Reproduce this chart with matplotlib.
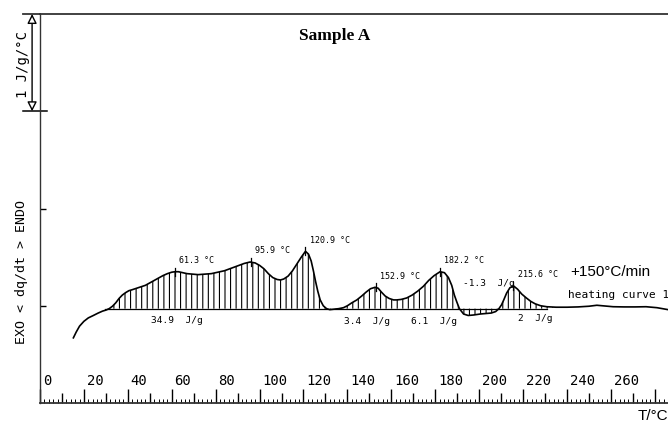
import numpy as np
import matplotlib
matplotlib.use('Agg')
import matplotlib.pyplot as plt
from matplotlib.ticker import MultipleLocator
from matplotlib.transforms import blended_transform_factory

# heating curve, T in degC, dq/dt in J/g/degC
temp = [15.2, 16.5, 18, 20, 22, 24.3, 26.5, 28.5, 30, 31.5, 33, 34.5, 36, 37.5, 39,
        40.5, 42, 44, 46, 48, 50, 52, 54, 56, 58, 60, 61.5, 63, 65, 67, 69.5, 72,
        75, 78, 81, 84, 87, 90, 93, 95.7, 98, 100, 102, 104, 106, 108, 109.5, 111,
        113, 115, 117, 119, 120.9, 122.3, 123.5, 124.5, 125.5, 126.5, 127.6, 129,
        130.5, 132, 134, 136, 138.2, 140, 142, 144.3, 146.5, 148.5, 150.5, 152.6,
        154, 155.5, 157.2, 159, 161, 162.5, 164.5, 167, 169.5, 172, 174.6, 177,
        179.5, 182.2, 184.2, 186, 187.5, 188.7, 189.8, 191, 192.9, 195, 197.5,
        200.5, 203, 205.5, 207.5, 209, 210.2, 211.2, 212.5, 214, 215.6, 217.5,
        219.4, 221.5, 223.5, 225.5, 228, 230.8, 235, 240, 245, 250, 253.6, 257,
        261, 266, 271, 276, 281, 286]
dqdt = [-0.33, -0.27, -0.21, -0.16, -0.125, -0.10, -0.075, -0.055, -0.045, -0.03,
        -0.005, 0.03, 0.075, 0.11, 0.135, 0.155, 0.165, 0.18, 0.195, 0.21, 0.235,
        0.26, 0.285, 0.31, 0.33, 0.345, 0.35, 0.35, 0.34, 0.33, 0.325, 0.32, 0.325,
        0.33, 0.345, 0.36, 0.385, 0.41, 0.435, 0.45, 0.44, 0.415, 0.38, 0.33, 0.29,
        0.27, 0.265, 0.275, 0.305, 0.36, 0.43, 0.5, 0.56, 0.53, 0.46, 0.36, 0.25,
        0.15, 0.06, 0.0, -0.03, -0.04, -0.035, -0.03, -0.02, 0.0, 0.03, 0.06, 0.10,
        0.14, 0.175, 0.19, 0.18, 0.14, 0.10, 0.075, 0.06, 0.06, 0.065, 0.08, 0.11,
        0.15, 0.20, 0.26, 0.31, 0.35, 0.34, 0.29, 0.21, 0.11, 0.04, -0.03, -0.085,
        -0.1, -0.095, -0.085, -0.08, -0.075, -0.06, -0.03, 0.01, 0.06, 0.13, 0.185,
        0.205, 0.17, 0.12, 0.08, 0.045, 0.02, 0.0, -0.01, -0.015, -0.015, -0.012,
        -0.005, 0.005, -0.002, -0.01, -0.012, -0.012, -0.01, -0.02, -0.04]

baseline = -0.03
integr_start, integr_end = 29.6, 231

peak_T = [61.3, 95.9, 120.9, 152.9, 182.2, 215.6]
peak_y = [0.35, 0.45, 0.56, 0.19, 0.35, 0.205]

area_vals = ['34.9', '3.4', '6.1', '-1.3', '2']
area_T = [62.3, 148.8, 179.5, 204.6, 225.5]
area_y = [-0.15, -0.16, -0.16, 0.23, -0.13]

xtick_vals = list(range(0, 261, 20))

mono = 'DejaVu Sans Mono'
plt.rcParams['hatch.linewidth'] = 0.8
T = np.array(temp)
Y = np.array(dqdt)

fig = plt.figure(figsize=(6.68, 4.23), dpi=100)
ax = fig.add_axes([40 / 668, 20 / 423, 628 / 668, 389 / 423])
ax.set_xlim(0, 286)
ax.set_ylim(-1, 3)

# hatched integration area
mask = (T >= integr_start) & (T <= integr_end)
ax.fill_between(T, Y, baseline, where=mask, interpolate=True, facecolor='none',
                edgecolor='black', hatch='|||', linewidth=0)
ax.plot([integr_start, integr_end], [baseline, baseline], color='black', lw=0.9)
ax.plot(T, Y, color='black', lw=1.2)

# peak marks and labels
for pt, py in zip(peak_T, peak_y):
    ax.plot([pt, pt], [py - 0.04, py + 0.04], color='black', lw=0.9)
    ax.annotate('%.1f °C' % pt, xy=(pt, py), xytext=(3, 8), textcoords='offset points',
                ha='left', va='center', family=mono, fontsize=6)
for v, at, ay in zip(area_vals, area_T, area_y):
    ax.text(at, ay, v + '  J/g', ha='center', va='center', family=mono, fontsize=6.8)

ax.text(241.5, 0.35, '+150°C/min', family='Liberation Sans', fontsize=11, va='center')
ax.text(240.5, 0.11, 'heating curve 1', family=mono, fontsize=8, va='center')

# axes styling
for s in ['top', 'bottom', 'left']:
    ax.spines[s].set_color('#333333')
    ax.spines[s].set_linewidth(1.3)
ax.spines['left'].set_linewidth(1.0)
ax.spines['right'].set_visible(False)

ax.xaxis.set_major_locator(MultipleLocator(20))
ax.xaxis.set_minor_locator(MultipleLocator(2))
ax.tick_params(axis='x', which='major', direction='in', length=10, width=1, labelbottom=False)
ax.tick_params(axis='x', which='minor', direction='in', length=3, width=0.7)
ax.set_yticks([0, 1])
ax.tick_params(axis='y', direction='in', length=4.5, width=1, labelleft=False)

trans = blended_transform_factory(ax.transData, ax.transAxes)
ax.vlines(np.arange(10, 286, 20), 0, 10 / 389, transform=trans, color='black', lw=1)
for t in xtick_vals:
    ax.text(t + 1.3, 0.0566, str(t), transform=trans, ha='left', va='center',
            family=mono, fontsize=10)
ax.text(1.0, -0.033, 'T/°C', transform=ax.transAxes, ha='right', va='center',
        family='Liberation Sans', fontsize=11, clip_on=False)

# scale bar 1 J/g/°C
ax.plot([-7.7, 3.2], [2, 2], color='black', lw=1.1, clip_on=False)
ax.plot([-7.7, 0], [3, 3], color='#333333', lw=1.3, clip_on=False)
ax.annotate('', xy=(-3.6, 3), xytext=(-3.6, 2), annotation_clip=False,
            arrowprops=dict(arrowstyle='<|-|>', fc='white', ec='black', lw=1,
                            mutation_scale=14, shrinkA=0, shrinkB=0))
fig.text(23 / 668, 1 - 65 / 423, '1 J/g/°C', rotation=90, ha='center', va='center',
         family=mono, fontsize=10)
fig.text(22 / 668, 1 - 272 / 423, 'EXO < dq/dt > ENDO', rotation=90, ha='center',
         va='center', family=mono, fontsize=9.5)

fig.text(335 / 668, 1 - 36 / 423, 'Sample A', ha='center', va='center',
         family='Liberation Serif', weight='bold', fontsize=12.5)

fig.savefig('out.png', dpi=100)
